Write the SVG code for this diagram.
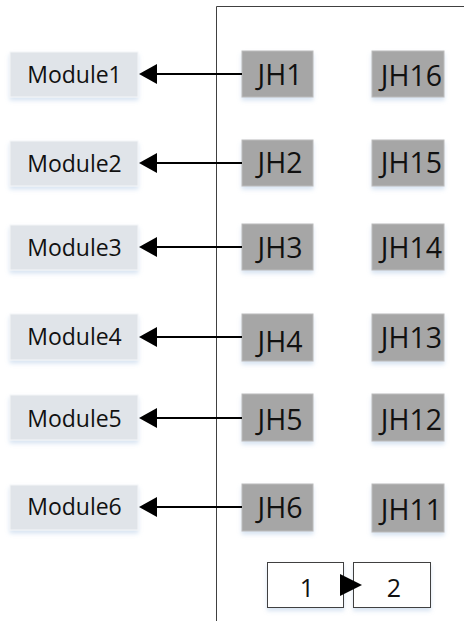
<svg xmlns="http://www.w3.org/2000/svg" width="464" height="623" viewBox="0 0 464 623">
<style>
.mod rect{fill:#e0e4e9;stroke:#f4f6f8;stroke-width:1}
.jh rect{fill:#a6a6a6;stroke:#bcbcbc;stroke-width:1}
.num rect{fill:#ffffff;stroke:#404040;stroke-width:1}
text{font-family:"Open Sans","Liberation Sans",sans-serif;fill:#111;text-anchor:middle}
.mod text{font-size:23px}
.jh text{font-size:28.5px}
.num text{font-size:25px}
.frame{fill:none;stroke:#404040;stroke-width:1}
.conn line{stroke:#000;stroke-width:2;marker-end:url(#ah)}
</style>
<defs>
<filter id="sh" x="-20%" y="-20%" width="140%" height="160%">
<feDropShadow dx="0" dy="3" stdDeviation="2" flood-color="#8fb0da" flood-opacity="0.35"/>
</filter>
<marker id="ah" markerUnits="userSpaceOnUse" markerWidth="20" markerHeight="22" refX="7" refY="10" orient="auto">
<path d="M0,0 L18,10 L0,20 Z" fill="#000"/>
</marker>
</defs>
<rect width="464" height="623" fill="#fff"/>
<path class="frame" d="M216.5,621 V6.5 H464"/>

<g id="module1" class="mod"><rect x="10" y="52" width="128" height="45" filter="url(#sh)"/><text x="74.5" y="83.3">Module1</text></g>
<g id="module2" class="mod"><rect x="10" y="141" width="128" height="45" filter="url(#sh)"/><text x="74.5" y="171.7">Module2</text></g>
<g id="module3" class="mod"><rect x="10" y="225" width="128" height="45" filter="url(#sh)"/><text x="74.5" y="256">Module3</text></g>
<g id="module4" class="mod"><rect x="10" y="314" width="128" height="46" filter="url(#sh)"/><text x="74.5" y="345">Module4</text></g>
<g id="module5" class="mod"><rect x="10" y="395" width="128" height="45" filter="url(#sh)"/><text x="74.5" y="426.7">Module5</text></g>
<g id="module6" class="mod"><rect x="10" y="485" width="128" height="45" filter="url(#sh)"/><text x="74.5" y="515">Module6</text></g>

<g id="jh1" class="jh"><rect x="242" y="51" width="71" height="46" filter="url(#sh)"/><text x="280" y="85">JH1</text></g>
<g id="jh2" class="jh"><rect x="242" y="140" width="71" height="46" filter="url(#sh)"/><text x="280" y="173.3">JH2</text></g>
<g id="jh3" class="jh"><rect x="242" y="224" width="71" height="46" filter="url(#sh)"/><text x="280" y="257.7">JH3</text></g>
<g id="jh4" class="jh"><rect x="242" y="314" width="71" height="47" filter="url(#sh)"/><text x="280" y="351.7">JH4</text></g>
<g id="jh5" class="jh"><rect x="242" y="394" width="71" height="47" filter="url(#sh)"/><text x="280" y="430">JH5</text></g>
<g id="jh6" class="jh"><rect x="242" y="484" width="71" height="47" filter="url(#sh)"/><text x="280" y="518.3">JH6</text></g>

<g id="jh16" class="jh"><rect x="372" y="51" width="72" height="46" filter="url(#sh)"/><text x="411.5" y="86">JH16</text></g>
<g id="jh15" class="jh"><rect x="372" y="140" width="72" height="46" filter="url(#sh)"/><text x="411.5" y="173.3">JH15</text></g>
<g id="jh14" class="jh"><rect x="372" y="224" width="72" height="46" filter="url(#sh)"/><text x="411.5" y="257.7">JH14</text></g>
<g id="jh13" class="jh"><rect x="372" y="314" width="72" height="47" filter="url(#sh)"/><text x="411.5" y="348.3">JH13</text></g>
<g id="jh12" class="jh"><rect x="372" y="394" width="72" height="47" filter="url(#sh)"/><text x="411.5" y="430">JH12</text></g>
<g id="jh11" class="jh"><rect x="372" y="484" width="72" height="48" filter="url(#sh)"/><text x="411.5" y="520">JH11</text></g>

<g id="box1" class="num"><rect x="267.5" y="562.5" width="76" height="45" filter="url(#sh)"/><text x="307" y="596.7">1</text></g>
<g id="box2" class="num"><rect x="353.5" y="562.5" width="77" height="45" filter="url(#sh)"/><text x="394" y="596.7">2</text></g>

<g id="connectors" class="conn">
<line x1="242" y1="74" x2="150" y2="74"/>
<line x1="242" y1="163" x2="150" y2="163"/>
<line x1="242" y1="247" x2="150" y2="247"/>
<line x1="242" y1="337" x2="150" y2="337"/>
<line x1="242" y1="418" x2="150" y2="418"/>
<line x1="242" y1="507" x2="150" y2="507"/>
<line x1="343" y1="585" x2="350" y2="585" style="marker-end:none"/>
<path d="M340,574 L362,585 L340,596 Z" fill="#000"/>
</g>
</svg>
